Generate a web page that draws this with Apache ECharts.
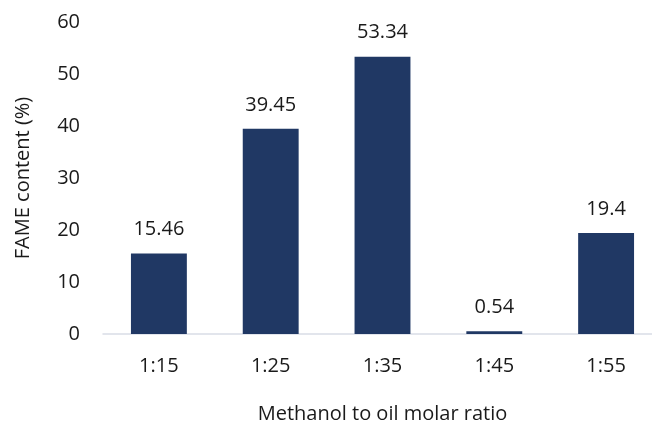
<!DOCTYPE html>
<html>
<head>
<meta charset="utf-8">
<script src="https://cdn.jsdelivr.net/npm/echarts@6/dist/echarts.min.js"></script>
<style>
  html, body { margin: 0; padding: 0; background: #ffffff; }
  #chart { width: 652px; height: 425px; }
</style>
</head>
<body>
<div id="chart"></div>
<script>
// Methanol-to-oil molar ratios and the FAME content measured for each
const ratios = ['1:15', '1:25', '1:35', '1:45', '1:55'];
const fameContent = [15.46, 39.45, 53.34, 0.54, 19.4];
const yTicks = { min: 0, max: 60, interval: 10 };

const FONT = '"Open Sans", "Noto Sans", sans-serif';
const TEXT = '#1a1a1a';
const chart = echarts.init(document.getElementById('chart'), null, { renderer: 'canvas' });

chart.setOption({
  animation: false,
  backgroundColor: '#ffffff',
  // the plot area runs a little past the right edge of the canvas
  grid: { left: 103, width: 559, top: 22, height: 312, outerBoundsMode: 'none' },
  xAxis: {
    type: 'category',
    data: ratios,
    name: 'Methanol to oil molar ratio',
    nameLocation: 'middle',
    nameGap: 70,
    nameTextStyle: { fontFamily: FONT, fontSize: 20, color: TEXT },
    axisLine: { show: true, lineStyle: { color: '#d9dde6', width: 1.5 } },
    axisTick: { show: false },
    axisLabel: { fontFamily: FONT, fontSize: 20, color: TEXT, margin: 22 }
  },
  yAxis: {
    type: 'value',
    min: yTicks.min,
    max: yTicks.max,
    interval: yTicks.interval,
    name: 'FAME content (%)',
    nameLocation: 'middle',
    nameGap: 70,
    nameRotate: 90,
    nameTextStyle: { fontFamily: FONT, fontSize: 20, color: TEXT },
    axisLine: { show: false },
    axisTick: { show: false },
    splitLine: { show: false },
    axisLabel: { fontFamily: FONT, fontSize: 20, color: TEXT, margin: 23 }
  },
  series: [{
    type: 'bar',
    data: fameContent,
    barWidth: '50%',
    itemStyle: { color: '#203864' },
    label: {
      show: true,
      position: 'top',
      distance: 14,
      fontFamily: FONT,
      fontSize: 20,
      color: TEXT
    }
  }]
});
</script>
</body>
</html>
